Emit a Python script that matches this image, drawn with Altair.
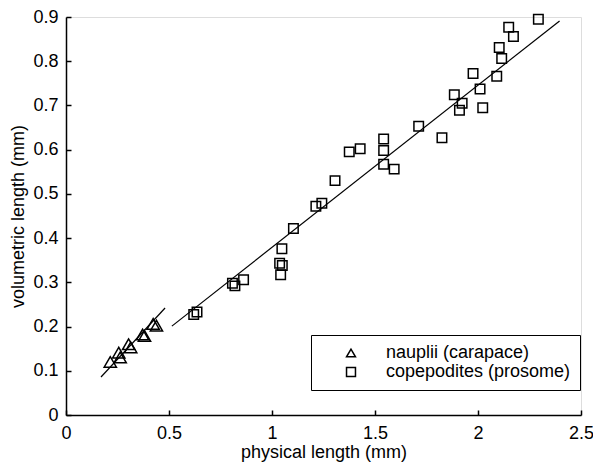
import altair as alt
import pandas as pd

# ---- data ----
cat_n = "nauplii (carapace)"
cat_c = "copepodites (prosome)"

nauplii_x = [0.215, 0.256, 0.263, 0.304, 0.314, 0.372, 0.381, 0.423, 0.439]
nauplii_y = [0.120, 0.141, 0.130, 0.160, 0.153, 0.182, 0.179, 0.206, 0.202]

cope_x = [0.620, 0.636, 0.808, 0.820, 0.862, 1.037, 1.042, 1.048, 1.050, 1.104,
          1.213, 1.242, 1.306, 1.375, 1.428, 1.542, 1.542, 1.542, 1.593, 1.712,
          1.825, 1.885, 1.910, 1.923, 1.976, 2.010, 2.023, 2.091, 2.103, 2.115,
          2.149, 2.172, 2.293]
cope_y = [0.227, 0.233, 0.298, 0.292, 0.306, 0.343, 0.317, 0.376, 0.338, 0.422,
          0.472, 0.479, 0.530, 0.595, 0.602, 0.624, 0.598, 0.567, 0.556, 0.653,
          0.627, 0.724, 0.689, 0.705, 0.772, 0.737, 0.695, 0.766, 0.831, 0.806,
          0.877, 0.856, 0.895]

# fitted line end points
fit_n_x = [0.170, 0.481]
fit_n_y = [0.086, 0.242]
fit_c_x = [0.514, 2.396]
fit_c_y = [0.201, 0.891]

x_ticks = [0, 0.5, 1, 1.5, 2, 2.5]
y_ticks = [0, 0.1, 0.2, 0.3, 0.4, 0.5, 0.6, 0.7, 0.8, 0.9]

naup = pd.DataFrame({"x": nauplii_x, "y": nauplii_y, "group": [cat_n] * len(nauplii_x)})
cope = pd.DataFrame({"x": cope_x, "y": cope_y, "group": [cat_c] * len(cope_x)})
fits = pd.DataFrame({
    "x": fit_n_x + fit_c_x,
    "y": fit_n_y + fit_c_y,
    "group": [cat_n] * 2 + [cat_c] * 2,
})

W, H = 515, 398
FONT = "Liberation Sans"
FS = 18

xscale = alt.Scale(domain=[0, 2.5], nice=False, zero=False)
yscale = alt.Scale(domain=[0, 0.9], nice=False, zero=False)

common_axis = dict(grid=False, labelFont=FONT, titleFont=FONT, labelFontSize=FS,
                   titleFontSize=FS, labelColor="black", titleColor="black",
                   titleFontWeight="normal", domainColor="black", domainWidth=1.5)

x_main = alt.X("x:Q", scale=xscale,
               axis=alt.Axis(orient="bottom", values=x_ticks, format="~g",
                             title="physical length (mm)", ticks=False, tickSize=0,
                             labelPadding=9, titlePadding=1, labelFlush=False,
                             **common_axis))
y_main = alt.Y("y:Q", scale=yscale,
               axis=alt.Axis(orient="left", values=y_ticks, format="~g",
                             title="volumetric length (mm)", ticks=False, tickSize=0,
                             labelPadding=8, titlePadding=5, labelFlush=False,
                             **common_axis))
x_plain = alt.X("x:Q", scale=xscale, axis=None)
y_plain = alt.Y("y:Q", scale=yscale, axis=None)

shape_enc = alt.Shape("group:N",
                      scale=alt.Scale(domain=[cat_n, cat_c], range=["triangle-up", "square"]),
                      legend=alt.Legend(title=None, orient="none", legendX=245, legendY=318,
                                        strokeColor="black", fillColor="white", padding=9,
                                        symbolOffset=22, labelOffset=26, labelFont=FONT,
                                        labelFontSize=FS, labelColor="black", labelLimit=0,
                                        symbolStrokeColor="black", symbolFillColor="white",
                                        symbolStrokeWidth=1.5, symbolSize=80, rowPadding=1,
                                        cornerRadius=0))

tri = alt.Chart(naup).mark_point(filled=False, strokeWidth=1.5, opacity=1, color="black",
                                 size=150).encode(x=x_main, y=y_main, shape=shape_enc)
sq = alt.Chart(cope).mark_point(filled=False, strokeWidth=1.5, opacity=1, color="black",
                                size=90).encode(x=x_plain, y=y_plain, shape=shape_enc)

lines = alt.Chart(fits).mark_line(color="black", strokeWidth=1.2).encode(
    x=alt.X("x:Q", scale=xscale,
            axis=alt.Axis(orient="top", offset=-H, values=x_ticks, labels=False, domain=False,
                          ticks=True, tickSize=5, tickWidth=1.5, tickColor="black",
                          title=None, grid=False)),
    y=alt.Y("y:Q", scale=yscale,
            axis=alt.Axis(orient="right", offset=-W, values=y_ticks, labels=False, domain=False,
                          ticks=True, tickSize=5, tickWidth=1.5, tickColor="black",
                          title=None, grid=False)),
    detail="group:N",
)

chart = alt.layer(lines, tri, sq).resolve_axis(
    x="independent", y="independent"
).properties(
    width=W, height=H,
    autosize=alt.AutoSizeParams(type="none"),
    padding={"left": 58, "top": 9, "right": 12, "bottom": 47},
).configure_view(stroke=None).configure(background="white")

chart.save("out.html", embed_options={"renderer": "svg", "actions": False})
